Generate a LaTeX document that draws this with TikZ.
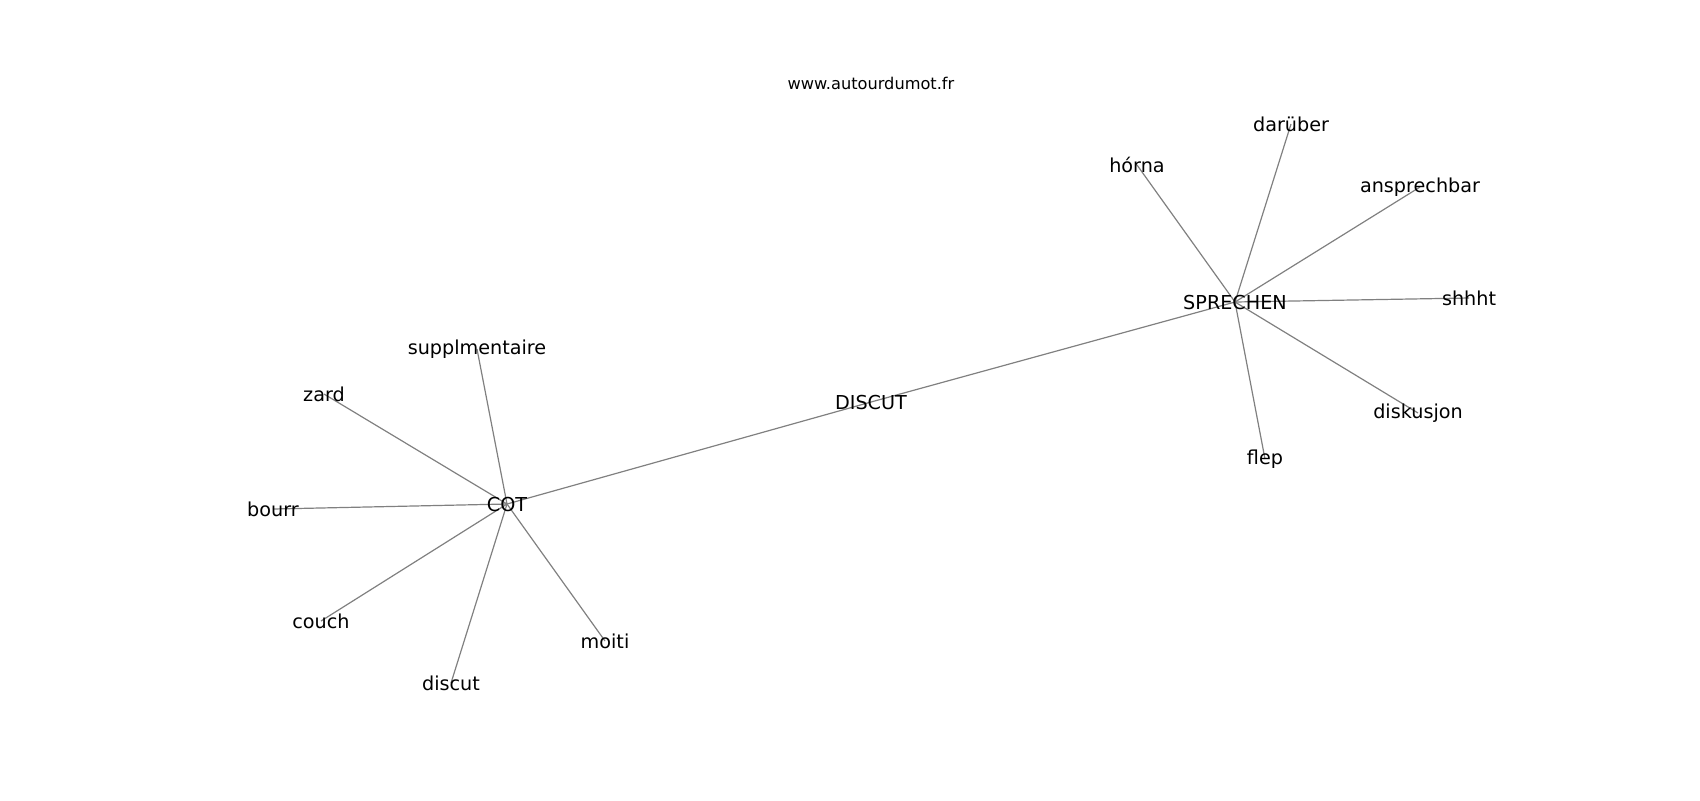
\documentclass[tikz,border=0pt]{standalone}
\usepackage{fontspec}
\setmainfont{DejaVu Sans}
\usetikzlibrary{backgrounds}
\tikzset{word/.style={inner sep=0pt, font=\fontsize{9.6}{11}\selectfont}, link/.style={draw=gray, line width=0.6pt}}

\begin{document}
\begin{tikzpicture}[x=0.5pt, y=-0.5pt]
  \useasboundingbox (0,0) rectangle (1700,800);
  \node[word, font=\fontsize{8.1}{10}\selectfont] (site) at (871, 83) {www.autourdumot.fr};
  % hubs
  \node[word] (discut)   at ( 871, 402) {DISCUT};
  \node[word] (cot)      at ( 507, 504) {COT};
  \node[word] (sprechen) at (1235, 302) {SPRECHEN};
  % around COT
  \node[word] (suppl)  at ( 477, 349) {supplmentaire};
  \node[word] (zard)   at ( 324, 394) {zard};
  \node[word] (bourr)  at ( 273, 509) {bourr};
  \node[word] (couch)  at ( 321, 621) {couch};
  \node[word] (discut2) at ( 451, 683) {discut};
  \node[word] (moiti)  at ( 605, 641) {moiti};
  % around SPRECHEN
  \node[word] (horna)  at (1137, 165) {hórna};
  \node[word] (darber) at (1291, 124) {darüber};
  \node[word] (anspr)  at (1420, 187) {ansprechbar};
  \node[word] (shhht)  at (1469, 298) {shhht};
  \node[word] (disk)   at (1418, 413) {diskusjon};
  \node[word] (flep)   at (1265, 459) {flep};
  \begin{scope}[on background layer]
    \draw[link] (cot.center) -- (discut.center) -- (sprechen.center);
    \foreach \n in {suppl, zard, bourr, couch, discut2, moiti}
      \draw[link] (cot.center) -- (\n.center);
    \foreach \n in {horna, darber, anspr, shhht, disk, flep}
      \draw[link] (sprechen.center) -- (\n.center);
  \end{scope}
\end{tikzpicture}
\end{document}
